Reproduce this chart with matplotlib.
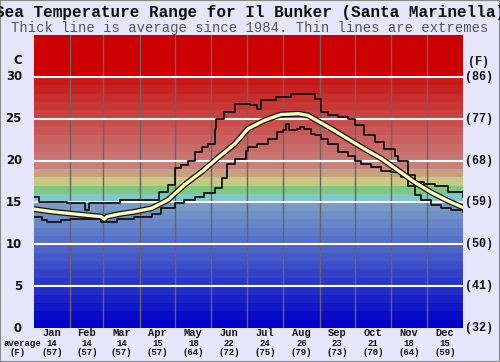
import numpy as np
import matplotlib.pyplot as plt
import matplotlib.patheffects as pe
import matplotlib.transforms as mtransforms
from matplotlib.patches import Rectangle

# monthly labels along the bottom
months = ['Jan', 'Feb', 'Mar', 'Apr', 'May', 'Jun', 'Jul', 'Aug', 'Sep', 'Oct', 'Nov', 'Dec']
month_avg_c = [14, 14, 14, 15, 18, 22, 24, 26, 23, 21, 18, 15]
month_avg_f = [57, 57, 57, 57, 64, 72, 75, 79, 73, 70, 64, 59]
month_len = [31, 28, 31, 30, 31, 30, 31, 31, 30, 31, 30, 31]

# average sea temperature (C) by day of year
avg_day = [0, 15, 29, 43, 57, 60, 62, 72, 86, 100, 107, 114, 128, 143, 157, 171,
           182, 196, 210, 225, 233, 243, 253, 267, 281, 296, 310, 324, 338, 352, 365]
avg_temp = [14.2, 13.9, 13.7, 13.5, 13.3, 13.0, 13.3, 13.6, 13.9, 14.3, 14.8, 15.3, 17.1, 18.7, 20.4, 22.0,
            23.8, 24.8, 25.5, 25.6, 25.4, 24.6, 23.8, 22.6, 21.4, 20.2, 18.8, 17.4, 16.2, 15.2, 14.4]

# highest recorded
max_day = [0, 4, 28, 43, 47, 73, 105, 106, 114, 120, 125, 131, 137, 143, 148, 154, 155, 162, 171,
           184, 190, 193, 206, 219, 239, 244, 250, 259, 267, 273, 281, 290, 298, 307, 310,
           318, 324, 332, 341, 352, 365]
max_temp = [15.7, 15.1, 14.9, 14.1, 14.9, 15.3, 15.3, 16.2, 17.1, 19.1, 19.5, 19.9, 21.0, 21.6, 22.0, 23.8, 25.0, 25.8, 26.7,
            26.6, 26.2, 27.2, 27.6, 28.0, 27.4, 25.8, 25.4, 25.2, 25.0, 24.2, 23.0, 22.2, 21.4, 20.6, 19.9,
            18.3, 17.4, 17.2, 17.0, 16.2, 15.6]

# lowest recorded
min_day = [0, 7, 11, 23, 31, 57, 71, 85, 100, 108, 120, 128, 137, 145, 154, 160, 164, 171, 180,
           182, 190, 199, 207, 212, 214, 217, 224, 226, 230, 236, 239, 244, 250, 259, 267, 273,
           278, 287, 295, 304, 312, 318, 324, 329, 338, 346, 355, 365]
min_temp = [13.2, 12.9, 12.7, 12.9, 13.0, 12.7, 13.0, 13.3, 13.6, 14.3, 14.9, 15.3, 15.7, 16.1, 16.7, 17.9, 19.6, 20.2, 21.2,
            21.6, 22.0, 22.6, 23.4, 23.6, 24.4, 23.6, 23.8, 24.0, 23.8, 23.2, 23.0, 22.6, 22.0, 21.0, 20.6, 20.0,
            19.6, 19.2, 18.8, 18.6, 18.0, 17.0, 15.9, 15.3, 14.7, 14.3, 14.1, 13.9]

c_ticks = [0, 5, 10, 15, 20, 25, 30]
f_ticks = ['(32)', '(41)', '(50)', '(59)', '(68)', '(77)', '(86)']

bg = '#e6e6fa'
mono = 'Liberation Mono'

# colour of each 1 degree band (blue -> cyan/green/yellow -> red)
stops_t = [0, 14, 15, 16, 17, 18, 19, 29, 30]
stops_rgb = np.array([[0, 0, 200], [120, 155, 200], [128, 200, 200], [128, 200, 128],
                      [200, 200, 128], [200, 162, 128], [200, 128, 125], [200, 25, 25],
                      [204, 0, 0]]) / 255.0


def band_color(t):
    return tuple(np.interp(t, stops_t, stops_rgb[:, k]) for k in range(3))


fig = plt.figure(figsize=(5, 3.62), dpi=100, facecolor=bg)
ax = fig.add_axes([34 / 500, 34 / 362, 429 / 500, 293 / 362])
ax.set_xlim(0, 365)
ax.set_ylim(0, 35)

for t in range(0, 30):
    ax.axhspan(t, t + 1, color=band_color(t), lw=0, zorder=0)
ax.axhspan(30, 35, color=band_color(30), lw=0, zorder=0)

edges = np.cumsum(month_len)[:-1]
for e in edges:
    ax.axvline(e, color='#666666', lw=1, zorder=1)
for t in c_ticks[1:]:
    ax.axhline(t, color='white', lw=1.5, zorder=1)

ax.plot(max_day, max_temp, drawstyle='steps-post', color='#111111', lw=1.3, zorder=3)
ax.plot(min_day, min_temp, drawstyle='steps-post', color='#111111', lw=1.3, zorder=3)
ax.plot(avg_day, avg_temp, color='#ffffb8', lw=2.4, zorder=4,
        path_effects=[pe.Stroke(linewidth=4.2, foreground='#111111'), pe.Normal()])

ax.set_xticks([])
ax.set_yticks([])
for s in ax.spines.values():
    s.set_visible(False)

# axis labels in figure pixels / data units
ytr = mtransforms.blended_transform_factory(fig.transFigure, ax.transData)
for t, f in zip(c_ticks, f_ticks):
    ax.text(22 / 500, t, str(t), transform=ytr, ha='right', va='center',
            fontsize=8.5, fontweight='bold', family='DejaVu Sans', color='#111111')
    ax.text(479 / 500, t, f, transform=ytr, ha='center', va='center',
            fontsize=8.5, fontweight='bold', family=mono, color='#111111')
ax.text(22 / 500, 32, 'C', transform=ytr, ha='right', va='center',
        fontsize=8.5, fontweight='bold', family='DejaVu Sans', color='#111111')
ax.text(479 / 500, 31.8, '(F)', transform=ytr, ha='center', va='center',
        fontsize=8.5, fontweight='bold', family=mono, color='#111111')

xtr = mtransforms.blended_transform_factory(ax.transData, fig.transFigure)
starts = np.concatenate([[0], np.cumsum(month_len)[:-1]])
for m, s, n, c, f in zip(months, starts, month_len, month_avg_c, month_avg_f):
    mid = s + n / 2
    ax.text(mid, 1 - 333.5 / 362, m, transform=xtr, ha='center', va='center',
            fontsize=7.5, fontweight='bold', family=mono, color='#111111')
    ax.text(mid, 1 - 343 / 362, str(c), transform=xtr, ha='center', va='center',
            fontsize=6.5, fontweight='bold', family=mono, color='#111111')
    ax.text(mid, 1 - 352.5 / 362, '(%d)' % f, transform=xtr, ha='center', va='center',
            fontsize=6.5, fontweight='bold', family=mono, color='#111111')
fig.text(22 / 500, 1 - 343 / 362, 'average', ha='center', va='center',
         fontsize=6.5, fontweight='bold', family=mono, color='#111111')
fig.text(18 / 500, 1 - 352.5 / 362, '(F)', ha='center', va='center',
         fontsize=6.5, fontweight='bold', family=mono, color='#111111')

fig.text(0.5, 1 - 13 / 362, 'Sea Temperature Range for Il Bunker (Santa Marinella)',
         ha='center', va='center', fontsize=11.5, fontweight='bold', family=mono, color='#111111')
fig.text(0.5, 1 - 28 / 362, 'Thick line is average since 1984. Thin lines are extremes',
         ha='center', va='center', fontsize=10, family=mono, color='#555555')

fig.patches.append(Rectangle((0, 0), 1, 1, transform=fig.transFigure, fill=False,
                             edgecolor='#888888', lw=1.5))

fig.savefig('out.png', dpi=100, facecolor=bg)
